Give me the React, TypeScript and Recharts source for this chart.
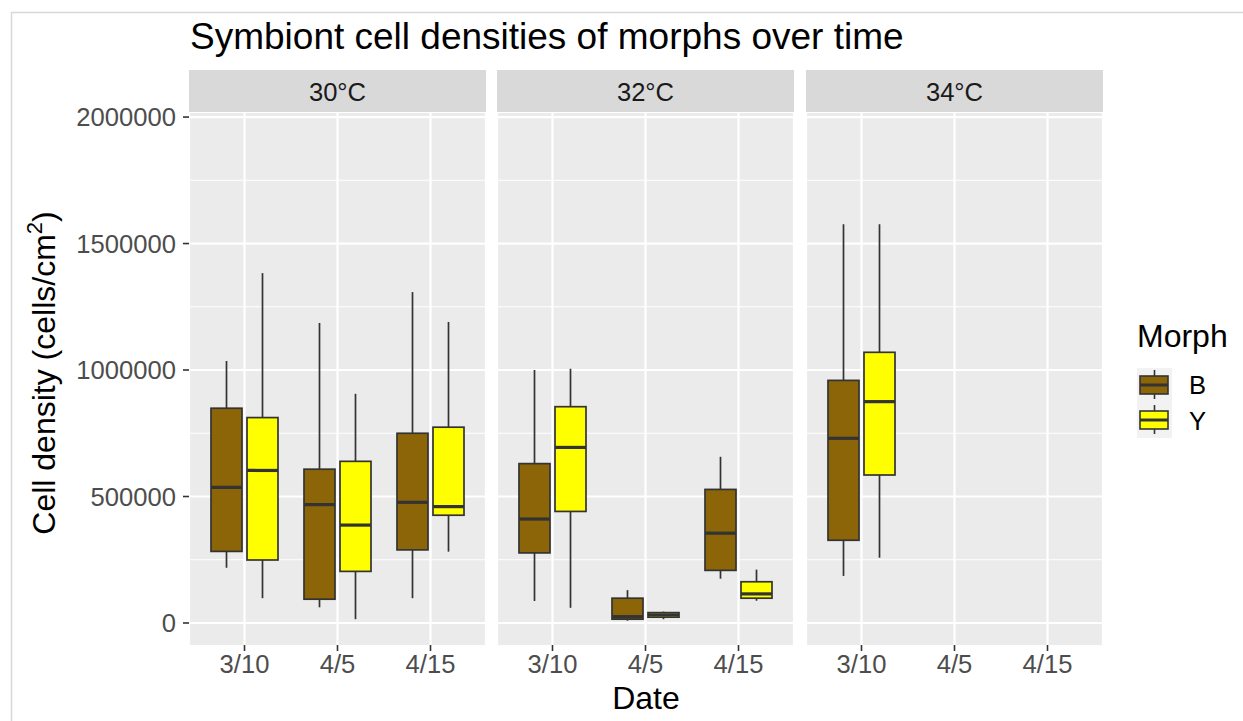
import React from 'react';
import { ComposedChart, Bar, XAxis, YAxis, CartesianGrid } from 'recharts';

// ---------- data ----------
const dates = ['3/10', '4/5', '4/15'];
const temps = ['30°C', '32°C', '34°C'];
const morphs = ['B', 'Y'];
const yTicks = [0, 500000, 1000000, 1500000, 2000000];
const yMinorTicks = [250000, 750000, 1250000, 1750000];
const yDomain: [number, number] = [-87000, 2016000];

// [min, q1, median, q3, max] for 3/10, 4/5, 4/15
const B_30 = [
  [218000, 283000, 536000, 849000, 1036000],
  [62000, 94000, 468000, 608000, 1186000],
  [98000, 289000, 477000, 750000, 1308000],
];
const Y_30 = [
  [98000, 249000, 603000, 812000, 1383000],
  [15000, 204000, 387000, 639000, 906000],
  [282000, 426000, 460000, 774000, 1190000],
];
const B_32 = [
  [87000, 277000, 411000, 630000, 1000000],
  [9000, 15000, 25000, 98000, 130000],
  [175000, 208000, 355000, 528000, 657000],
];
const Y_32 = [
  [60000, 441000, 694000, 855000, 1005000],
  [15000, 23000, 32000, 41000, 45000],
  [88000, 98000, 115000, 163000, 211000],
];
const B_34 = [
  [186000, 327000, 730000, 959000, 1576000],
  null,
  null,
];
const Y_34 = [
  [258000, 585000, 875000, 1070000, 1576000],
  null,
  null,
];

const morphFill: Record<string, string> = { B: '#8B6508', Y: '#FFFF00' };
const FONT = '"Liberation Sans", Arial, Helvetica, sans-serif';

const panelSeries = [
  { B: B_30, Y: Y_30 },
  { B: B_32, Y: Y_32 },
  { B: B_34, Y: Y_34 },
];

const panelLefts = [189, 497, 806];
const PANEL_W = 297;
const PANEL_TOP = 113;
const PANEL_H = 532;
const CHART_MARGIN_TOP = 20;
const XAXIS_H = 40;
const YAXIS_W = 189;

const makeBox = (key: string) => (props: any) => {
  const { x, y, width, height, payload } = props;
  const s = payload ? payload[key] : null;
  if (!s || !isFinite(y) || !isFinite(height) || !isFinite(x)) return <g />;
  const [lo, q1, med, q3, hi] = s;
  const top = Math.min(y, y + height);
  const bot = Math.max(y, y + height);
  const span = hi - lo || 1;
  const py = (v: number) => top + ((hi - v) / span) * (bot - top);
  const cx = x + width / 2;
  const stroke = '#333333';
  return (
    <g>
      <line x1={cx} x2={cx} y1={py(hi)} y2={py(q3)} stroke={stroke} strokeWidth={1.7} />
      <line x1={cx} x2={cx} y1={py(q1)} y2={py(lo)} stroke={stroke} strokeWidth={1.7} />
      <rect x={x} y={py(q3)} width={width} height={Math.max(py(q1) - py(q3), 0.5)} fill={morphFill[key]} stroke={stroke} strokeWidth={1.7} />
      <line x1={x} x2={x + width} y1={py(med)} y2={py(med)} stroke={stroke} strokeWidth={3.2} />
    </g>
  );
};

function Panel({ idx }: { idx: number }) {
  const showY = idx === 0;
  const series = panelSeries[idx];
  const rows = dates.map((d, i) => ({ date: d, B: series.B[i], Y: series.Y[i] }));
  const width = showY ? YAXIS_W + PANEL_W : PANEL_W;
  const left = showY ? panelLefts[0] - YAXIS_W : panelLefts[idx];
  const tickStyle = { fill: '#4D4D4D', fontSize: 25.6, fontFamily: FONT };
  return (
    <div style={{ position: 'absolute', left, top: PANEL_TOP - CHART_MARGIN_TOP }}>
      <ComposedChart
        width={width}
        height={CHART_MARGIN_TOP + PANEL_H + XAXIS_H}
        data={rows}
        margin={{ top: CHART_MARGIN_TOP, right: 0, bottom: 0, left: 0 }}
        barGap={5}
        barSize={31}
      >
        <CartesianGrid fill="#EBEBEB" stroke="#FFFFFF" strokeWidth={1} vertical={false} horizontalValues={yMinorTicks} />
        <CartesianGrid stroke="#FFFFFF" strokeWidth={2.2} horizontalValues={yTicks} />
        <XAxis
          dataKey="date"
          type="category"
          height={XAXIS_H}
          padding={{ left: 9, right: 9 }}
          axisLine={false}
          tickLine={{ stroke: '#333333', strokeWidth: 1.6 }}
          tickSize={6}
          tickMargin={4}
          tick={tickStyle}
          interval={0}
        />
        <YAxis
          hide={!showY}
          width={YAXIS_W}
          type="number"
          domain={yDomain}
          allowDataOverflow
          ticks={yTicks}
          axisLine={false}
          tickLine={{ stroke: '#333333', strokeWidth: 1.6 }}
          tickSize={6}
          tickMargin={7}
          tick={tickStyle}
        />
        {morphs.map((m) => (
          <Bar
            key={m}
            dataKey={(r: any) => (r[m] ? [r[m][0], r[m][4]] : null)}
            name={m}
            fill={morphFill[m]}
            shape={makeBox(m)}
            isAnimationActive={false}
          />
        ))}
      </ComposedChart>
    </div>
  );
}

function LegendKey({ y, fill }: { y: number; fill: string }) {
  const cx = 1154.5;
  return (
    <g>
      <line x1={cx} x2={cx} y1={y + 2} y2={y + 31} stroke="#333333" strokeWidth={1.6} />
      <rect x={1140} y={y + 8} width={28} height={18} fill={fill} stroke="#333333" strokeWidth={1.6} />
      <line x1={1140} x2={1168} y1={y + 17} y2={y + 17} stroke="#333333" strokeWidth={3} />
    </g>
  );
}

export default function App() {
  return (
    <div style={{ position: 'relative', width: 1243, height: 721, background: '#FFFFFF', overflow: 'hidden', fontFamily: FONT }}>
      <style>{`body{margin:0;}`}</style>
      {/* border */}
      <svg width={1243} height={721} style={{ position: 'absolute', left: 0, top: 0 }}>
        <line x1={11} x2={1243} y1={12.5} y2={12.5} stroke="#D8D8D8" strokeWidth={1.5} />
        <line x1={11.5} x2={11.5} y1={12} y2={721} stroke="#D8D8D8" strokeWidth={1.5} />
      </svg>
      {[0, 1, 2].map((i) => (
        <Panel key={i} idx={i} />
      ))}
      <svg width={1243} height={721} style={{ position: 'absolute', left: 0, top: 0, pointerEvents: 'none' }} fontFamily={FONT}>
        <text x={190} y={49} fontSize={37} fill="#000000">
          Symbiont cell densities of morphs over time
        </text>
        {temps.map((t, i) => (
          <g key={t}>
            <rect x={panelLefts[i]} y={70} width={PANEL_W} height={42} fill="#D9D9D9" />
            <text x={panelLefts[i] + PANEL_W / 2} y={101} fontSize={25.6} fill="#1A1A1A" textAnchor="middle">
              {t}
            </text>
          </g>
        ))}
        <text x={646} y={709} fontSize={32} fill="#000000" textAnchor="middle">
          Date
        </text>
        <text transform="translate(55,373) rotate(-90)" fontSize={32} fill="#000000" textAnchor="middle">
          Cell density (cells/cm
          <tspan dy={-13} fontSize={22}>2</tspan>
          <tspan dy={13}>)</tspan>
        </text>
        <text x={1137} y={347} fontSize={32} fill="#000000">
          Morph
        </text>
        <rect x={1137} y={368} width={35} height={70} fill="#F2F2F2" />
        <LegendKey y={368} fill={morphFill.B} />
        <LegendKey y={403} fill={morphFill.Y} />
        <text x={1189} y={394} fontSize={25.6} fill="#000000">
          B
        </text>
        <text x={1189} y={430} fontSize={25.6} fill="#000000">
          Y
        </text>
      </svg>
    </div>
  );
}
